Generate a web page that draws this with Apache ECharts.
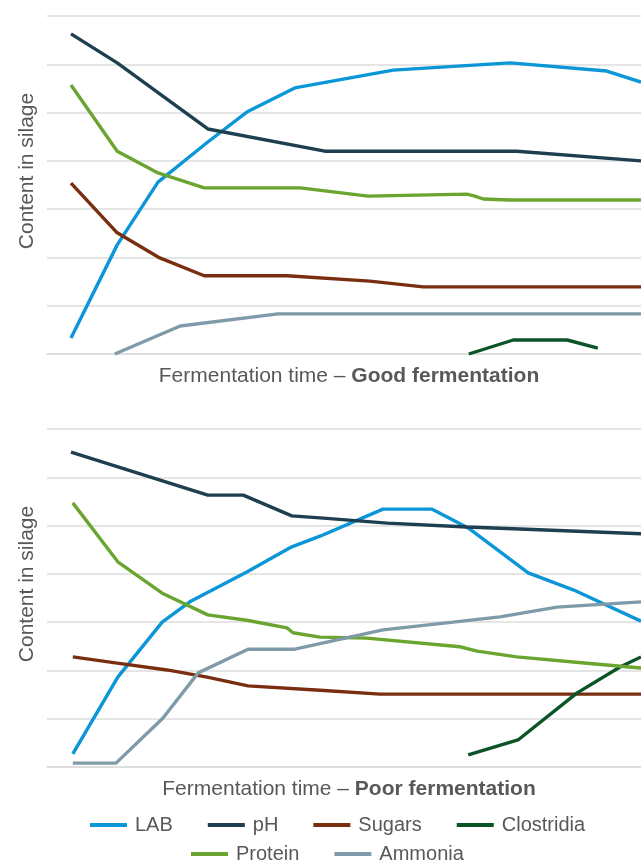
<!DOCTYPE html>
<html>
<head>
<meta charset="utf-8">
<script src="https://cdn.jsdelivr.net/npm/echarts@6/dist/echarts.min.js"></script>
<style>
  html, body { margin: 0; padding: 0; background: #fff; }
  #main { width: 641px; height: 868px; }
</style>
</head>
<body>
<div id="main"></div>
<script>
// series names + colours
const names = ['LAB', 'pH', 'Sugars', 'Clostridia', 'Protein', 'Ammonia']
const colors = ['#0a96d7', '#1d3f4f', '#7a2e10', '#0b5428', '#6aa52f', '#7f9ba9']

// good fermentation, [time, content]
const goodLAB = [[4, 3.3], [11.7, 22.6], [18.5, 35.6], [26.8, 43.9], [33.3, 50.1], [41.3, 55.1], [57.7, 58.8], [77.2, 60.3], [93.3, 58.6], [99, 56.3]]
const goodPH = [[4, 66.3], [11.7, 60.3], [26.8, 46.6], [46.3, 42.0], [78.3, 42.0], [99, 40.0]]
const goodSugars = [[4, 35.4], [11.7, 25.1], [18.8, 19.9], [26.2, 16.2], [40, 16.2], [53.8, 15.1], [62.7, 13.9], [99, 13.9]]
const goodClostridia = [[70.3, 0], [77.7, 2.9], [86.7, 2.9], [91.8, 1.2]]
const goodProtein = [[4, 55.7], [11.7, 42.0], [18.5, 37.5], [26.2, 34.4], [42.2, 34.4], [53.5, 32.7], [70, 33.1], [71.3, 32.7], [72.7, 32.1], [77.2, 31.9], [99, 31.9]]
const goodAmmonia = [[11.3, 0], [22.2, 5.8], [38.5, 8.3], [99, 8.3]]

// poor fermentation
const poorLAB = [[4.3, 2.7], [11.8, 18.6], [19.2, 30.0], [23.8, 34.2], [33.3, 40.4], [40.8, 45.6], [45.5, 47.8], [56, 53.4], [64.2, 53.4], [70.2, 49.5], [80.2, 40.2], [87.7, 36.7], [99, 30.2]]
const poorPH = [[4, 65.2], [26.8, 56.3], [32.7, 56.3], [40.8, 52.0], [45.5, 51.6], [56.7, 50.5], [70, 49.7], [78.8, 49.3], [99, 48.3]]
const poorSugars = [[4.3, 22.8], [11.7, 21.5], [20, 20.1], [26.7, 18.6], [33.5, 16.8], [45.5, 15.9], [55.5, 15.1], [99, 15.1]]
const poorClostridia = [[70.2, 2.5], [78.5, 5.6], [88.3, 15.3], [95.5, 20.7], [99, 22.8]]
const poorProtein = [[4.3, 54.7], [11.8, 42.5], [19.2, 36.0], [26.8, 31.5], [33.3, 30.4], [40, 28.8], [41, 27.8], [45.5, 26.9], [53.3, 26.7], [68.8, 24.9], [71.7, 24.0], [78.3, 22.8], [90, 21.5], [99, 20.5]]
const poorAmmonia = [[4.3, 0.8], [11.5, 0.8], [19.3, 10.1], [25.2, 19.5], [33.5, 24.4], [41.3, 24.4], [56, 28.4], [67.7, 30.0], [75.5, 31.1], [85, 33.1], [99, 34.2]]

const goodData = [goodLAB, goodPH, goodSugars, goodClostridia, goodProtein, goodAmmonia]
const poorData = [poorLAB, poorPH, poorSugars, poorClostridia, poorProtein, poorAmmonia]

const textColor = '#58585a'
const gridColor = '#dcdcdc'
const font = '"Liberation Sans", Arial, Helvetica, sans-serif'

function xAxisFor(idx, label) {
  return {
    gridIndex: idx,
    type: 'value',
    min: 0,
    max: 99,
    axisLine: { show: true, lineStyle: { color: gridColor, width: 1.5 } },
    axisTick: { show: false },
    axisLabel: { show: false },
    splitLine: { show: false },
    name: '{n|Fermentation time – }{b|' + label + '}',
    nameLocation: 'middle',
    nameGap: 12,
    nameTextStyle: {
      padding: [0, 0, 0, 10],
      rich: {
        n: { fontSize: 21, color: textColor, fontFamily: font },
        b: { fontSize: 21, color: textColor, fontFamily: font, fontWeight: 'bold' }
      }
    }
  }
}

function yAxisFor(idx) {
  return {
    gridIndex: idx,
    type: 'value',
    min: 0,
    max: 70,
    interval: 10,
    axisLine: { show: false },
    axisTick: { show: false },
    axisLabel: { show: false },
    splitLine: { lineStyle: { color: gridColor, width: 1.5 } },
    name: 'Content in silage',
    nameLocation: 'middle',
    nameRotate: 90,
    nameGap: 9,
    nameTextStyle: { fontSize: 21, color: textColor, fontFamily: font, padding: [0, 0, 0, 28] }
  }
}

let series = []
names.forEach(function (n, i) {
  series.push({ name: n, type: 'line', xAxisIndex: 0, yAxisIndex: 0, data: goodData[i], showSymbol: false, symbol: 'none', lineStyle: { width: 3.4, color: colors[i] }, itemStyle: { color: colors[i] } })
  series.push({ name: n, type: 'line', xAxisIndex: 1, yAxisIndex: 1, data: poorData[i], showSymbol: false, symbol: 'none', lineStyle: { width: 3.4, color: colors[i] }, itemStyle: { color: colors[i] } })
})

const legendBase = {
  icon: 'rect',
  itemWidth: 37,
  itemHeight: 4,
  itemGap: 35,
  padding: 0,
  selectedMode: false,
  textStyle: { fontSize: 20, color: textColor, fontFamily: font, padding: [0, 0, 0, 3] }
}

let chart = echarts.init(document.getElementById('main'))
chart.setOption({
  animation: false,
  backgroundColor: '#fff',
  grid: [
    { left: 47, right: 0, top: 16, height: 338 },
    { left: 47, right: 0, top: 429, height: 338 }
  ],
  xAxis: [xAxisFor(0, 'Good fermentation'), xAxisFor(1, 'Poor fermentation')],
  yAxis: [yAxisFor(0), yAxisFor(1)],
  legend: [
    Object.assign({}, legendBase, { left: 90, top: 815, data: ['LAB', 'pH', 'Sugars', 'Clostridia'] }),
    Object.assign({}, legendBase, { left: 191, top: 844, data: ['Protein', 'Ammonia'] })
  ],
  series: series
})
</script>
</body>
</html>
